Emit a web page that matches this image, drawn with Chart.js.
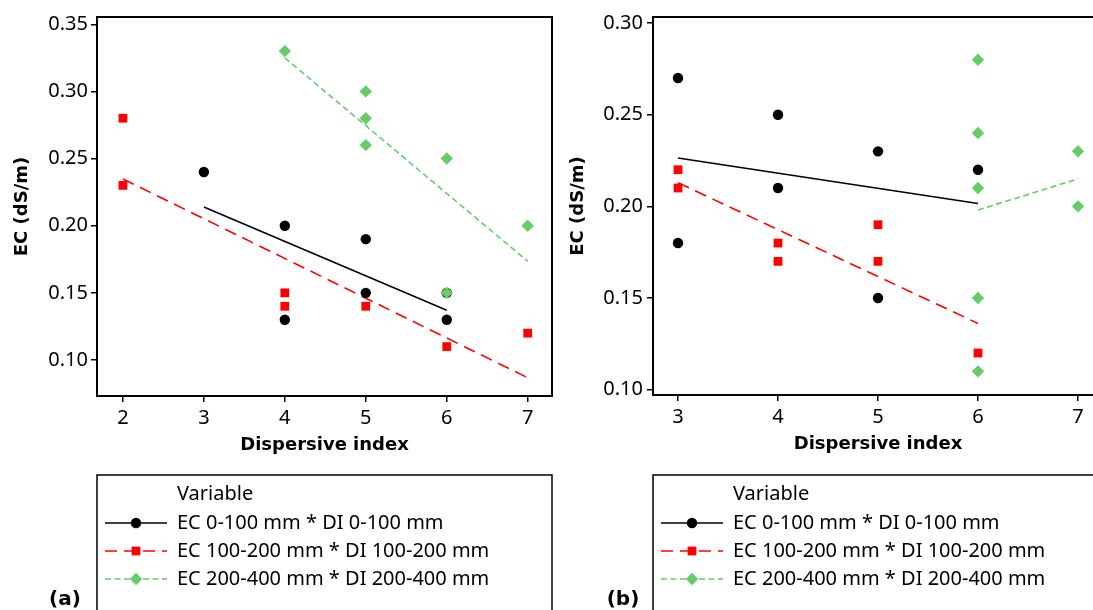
<!DOCTYPE html>
<html>
<head>
<meta charset="utf-8">
<script src="https://cdn.jsdelivr.net/npm/chart.js@4.4.1/dist/chart.umd.min.js"></script>
<style>
  body { margin: 0; width: 1093px; height: 610px; overflow: hidden; background: #fff; position: relative; }
  canvas { position: absolute; top: 0; }
</style>
</head>
<body>
<canvas id="chartA" width="560" height="610" style="left:0px"></canvas>
<canvas id="chartB" width="560" height="610" style="left:560px"></canvas>
<script>
// (a) EC vs dispersive index, one pair of arrays per depth
var aXTicks = [2, 3, 4, 5, 6, 7];
var aYTicks = [0.10, 0.15, 0.20, 0.25, 0.30, 0.35];
var aX1 = [3, 4, 4, 5, 5, 6, 6];
var aY1 = [0.24, 0.20, 0.13, 0.19, 0.15, 0.15, 0.13];
var aX2 = [2, 2, 4, 4, 5, 6, 7];
var aY2 = [0.28, 0.23, 0.15, 0.14, 0.14, 0.11, 0.12];
var aX3 = [4, 5, 5, 5, 6, 6, 7];
var aY3 = [0.33, 0.30, 0.28, 0.26, 0.25, 0.15, 0.20];

// (b)
var bXTicks = [3, 4, 5, 6, 7];
var bYTicks = [0.10, 0.15, 0.20, 0.25, 0.30];
var bX1 = [3, 3, 4, 4, 5, 5, 6];
var bY1 = [0.27, 0.18, 0.25, 0.21, 0.23, 0.15, 0.22];
var bX2 = [3, 3, 4, 4, 5, 5, 6];
var bY2 = [0.22, 0.21, 0.18, 0.17, 0.19, 0.17, 0.12];
var bX3 = [6, 6, 6, 6, 6, 7, 7];
var bY3 = [0.28, 0.24, 0.21, 0.15, 0.11, 0.23, 0.20];

var seriesNames = [
  'EC 0-100 mm * DI 0-100 mm',
  'EC 100-200 mm * DI 100-200 mm',
  'EC 200-400 mm * DI 200-400 mm'
];

var FONT = "'Noto Sans', 'DejaVu Sans', sans-serif";
var BOLD_FONT = "'DejaVu Sans', Verdana, sans-serif";

// marker + line look of each series
var styles = [
  { color: '#000000', pointStyle: 'circle',  radius: 5.2, dash: [] },
  { color: '#ff0000', pointStyle: 'rect',    radius: 6.2, dash: [12, 7] },
  { color: '#66cc66', pointStyle: 'rectRot', radius: 6.2, dash: [6, 3.5] }
];

function toPoints(xs, ys) {
  return xs.map(function (x, i) { return { x: x, y: ys[i] }; });
}

// least squares fit, drawn between the smallest and largest x
function fitLine(xs, ys) {
  var n = xs.length, mx = 0, my = 0, sxy = 0, sxx = 0;
  for (var i = 0; i < n; i++) { mx += xs[i] / n; my += ys[i] / n; }
  for (var j = 0; j < n; j++) {
    sxy += (xs[j] - mx) * (ys[j] - my);
    sxx += (xs[j] - mx) * (xs[j] - mx);
  }
  var b = sxy / sxx, a = my - b * mx;
  var x0 = Math.min.apply(null, xs), x1 = Math.max.apply(null, xs);
  return [{ x: x0, y: a + b * x0 }, { x: x1, y: a + b * x1 }];
}

function makeDatasets(xsList, ysList) {
  var sets = [];
  xsList.forEach(function (xs, k) {
    var s = styles[k];
    sets.push({
      label: seriesNames[k],
      data: toPoints(xs, ysList[k]),
      pointStyle: s.pointStyle,
      pointRadius: s.radius,
      pointHoverRadius: s.radius,
      pointBackgroundColor: s.color,
      pointBorderColor: s.color,
      pointBorderWidth: 0,
      showLine: false,
      order: 3 - k
    });
    sets.push({
      label: seriesNames[k] + ' fit',
      data: fitLine(xs, ysList[k]),
      showLine: true,
      pointRadius: 0,
      borderColor: s.color,
      borderWidth: 1.6,
      borderDash: s.dash,
      fill: false,
      order: 10 + k
    });
  });
  return sets;
}

// box around the plot area
var framePlugin = {
  id: 'frame',
  beforeDatasetsDraw: function (chart) {
    var a = chart.chartArea, ctx = chart.ctx;
    ctx.save();
    ctx.strokeStyle = '#000';
    ctx.lineWidth = 2;
    ctx.strokeRect(a.left, a.top, a.right - a.left, a.bottom - a.top);
    ctx.restore();
  }
};

// Minitab style legend box under the plot, plus the panel letter
var legendBoxPlugin = {
  id: 'legendBox',
  afterDraw: function (chart, args, opts) {
    var ctx = chart.ctx;
    var left = chart.chartArea.left, top = 475;
    ctx.save();
    ctx.strokeStyle = '#000';
    ctx.lineWidth = 1.5;
    ctx.strokeRect(left, top, opts.boxWidth, 200);

    ctx.fillStyle = '#000';
    ctx.font = '20px ' + FONT;
    ctx.textBaseline = 'middle';
    ctx.textAlign = 'left';
    ctx.fillText('Variable', left + 80, 494);

    var rows = [523, 551, 579];
    styles.forEach(function (s, k) {
      var y = rows[k];
      ctx.strokeStyle = s.color;
      ctx.lineWidth = 1.6;
      ctx.setLineDash(s.dash);
      ctx.beginPath();
      ctx.moveTo(left + 8, y);
      ctx.lineTo(left + 70, y);
      ctx.stroke();
      ctx.setLineDash([]);
      ctx.fillStyle = s.color;
      Chart.helpers.drawPoint(ctx, { pointStyle: s.pointStyle, radius: s.radius, rotation: 0, borderWidth: 0 }, left + 39, y);
      ctx.fillStyle = '#000';
      ctx.fillText(seriesNames[k], left + 80, y);
    });

    ctx.font = 'bold 20px ' + BOLD_FONT;
    ctx.textAlign = 'center';
    ctx.fillText(opts.tag, opts.tagX, 600);
    ctx.restore();
  }
};

function makeChart(id, xsList, ysList, cfg) {
  var ctx = document.getElementById(id).getContext('2d');
  return new Chart(ctx, {
    type: 'scatter',
    data: { datasets: makeDatasets(xsList, ysList) },
    plugins: [framePlugin, legendBoxPlugin],
    options: {
      responsive: false,
      animation: false,
      events: [],
      layout: { padding: { left: 0, right: cfg.padRight, top: 17, bottom: cfg.padBottom } },
      plugins: {
        legend: { display: false },
        tooltip: { enabled: false },
        legendBox: { boxWidth: cfg.boxWidth, tag: cfg.tag, tagX: cfg.tagX }
      },
      scales: {
        x: {
          type: 'linear',
          min: cfg.xMin,
          max: cfg.xMax,
          afterBuildTicks: function (scale) {
            scale.ticks = cfg.xTicks.map(function (v) { return { value: v }; });
          },
          afterFit: function (scale) {
            scale.height = 60;
            scale.paddingLeft = 0;
            scale.paddingRight = 0;
          },
          grid: { drawOnChartArea: false, drawTicks: true, tickLength: 6, color: '#000', lineWidth: 1.5 },
          border: { display: true, color: '#000', width: 2 },
          ticks: {
            color: '#000',
            padding: 4,
            font: { family: FONT, size: 20 },
            maxRotation: 0,
            callback: function (v) { return String(v); }
          },
          title: {
            display: true,
            text: 'Dispersive index',
            color: '#000',
            font: { family: BOLD_FONT, size: 18, weight: 'bold' },
            padding: { top: 0, bottom: 0 }
          }
        },
        y: {
          type: 'linear',
          min: cfg.yMin,
          max: cfg.yMax,
          afterBuildTicks: function (scale) {
            scale.ticks = cfg.yTicks.map(function (v) { return { value: v }; });
          },
          afterFit: function (scale) {
            scale.width = cfg.yWidth;
            scale.paddingTop = 0;
            scale.paddingBottom = 0;
          },
          grid: { drawOnChartArea: false, drawTicks: true, tickLength: 6, color: '#000', lineWidth: 1.5 },
          border: { display: true, color: '#000', width: 2 },
          ticks: {
            color: '#000',
            padding: cfg.yTickPad,
            font: { family: FONT, size: 20 },
            callback: function (v) { return v.toFixed(2); }
          },
          title: {
            display: true,
            text: 'EC (dS/m)',
            color: '#000',
            font: { family: BOLD_FONT, size: 18, weight: 'bold' },
            padding: { top: cfg.yTitlePad, bottom: 0 }
          }
        }
      }
    }
  });
}

makeChart('chartA', [aX1, aX2, aX3], [aY1, aY2, aY3], {
  xMin: 1.68, xMax: 7.30, yMin: 0.0732, yMax: 0.3554,
  xTicks: aXTicks, yTicks: aYTicks,
  yWidth: 97, padRight: 8, padBottom: 154, yTickPad: 3, yTitlePad: 12,
  boxWidth: 455, tag: '(a)', tagX: 65
});

makeChart('chartB', [bX1, bX2, bX3], [bY1, bY2, bY3], {
  xMin: 2.75, xMax: 7.25, yMin: 0.0971, yMax: 0.3033,
  xTicks: bXTicks, yTicks: bYTicks,
  yWidth: 93, padRight: 17, padBottom: 155, yTickPad: 4, yTitlePad: 8,
  boxWidth: 500, tag: '(b)', tagX: 63
});
</script>
</body>
</html>
